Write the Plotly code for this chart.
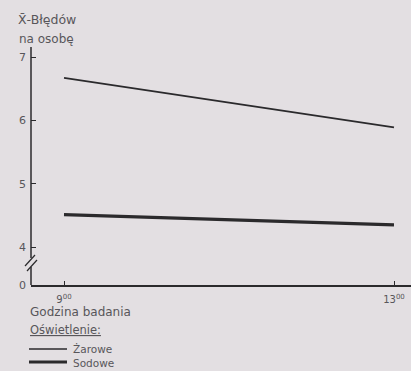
import plotly.graph_objects as go

# Data
hours = [9, 13]
hour_labels = ["9<sup>00</sup>", "13<sup>00</sup>"]
zarowe = [6.67, 5.89]
sodowe = [4.51, 4.35]
ytick_vals = [3.40, 4, 5, 6, 7]
ytick_text = ["0", "4", "5", "6", "7"]

W, H = 411, 371
L, R, T, B = 31, 0, 47, 86
PW, PH = W - L - R, H - T - B

def px(x):
    return (x - L) / PW

def py(y):
    return (H - B - y) / PH

ink = "#2b2a2c"
txt = "#58565a"
bg = "#e3dfe2"

fig = go.Figure()
fig.add_trace(go.Scatter(x=hours, y=zarowe, mode="lines", name="Żarowe",
                         line=dict(color=ink, width=1.8), showlegend=False))
fig.add_trace(go.Scatter(x=hours, y=sodowe, mode="lines", name="Sodowe",
                         line=dict(color=ink, width=3.2), showlegend=False))

fam = "DejaVu Sans"

fig.update_layout(
    width=W, height=H,
    margin=dict(l=L, r=R, t=T, b=B),
    paper_bgcolor=bg, plot_bgcolor=bg,
    font=dict(family=fam, size=11, color=txt),
    xaxis=dict(range=[8.6, 13.206], tickvals=hours, ticktext=hour_labels,
               showgrid=False, zeroline=False, showline=True, linecolor=ink,
               linewidth=1.5, ticks="inside", ticklen=4, tickcolor=ink,
               ticklabelstandoff=4,
               tickfont=dict(family=fam, size=10, color=txt)),
    yaxis=dict(range=[3.40, 7.158], tickvals=ytick_vals, ticktext=ytick_text,
               showgrid=False, zeroline=False, showline=False,
               ticks="inside", ticklen=5, tickcolor=ink,
               ticklabelstandoff=4,
               tickfont=dict(family=fam, size=11, color=txt)),
    showlegend=False,
)

shapes = []
line_style = dict(color=ink, width=1.5)
# y-axis with break
shapes.append(dict(type="line", xref="paper", yref="paper", x0=px(31), x1=px(31),
                   y0=py(47), y1=py(258), line=line_style))
shapes.append(dict(type="line", xref="paper", yref="paper", x0=px(31), x1=px(31),
                   y0=py(267), y1=py(285), line=line_style))
shapes.append(dict(type="line", xref="paper", yref="paper", x0=px(25), x1=px(35),
                   y0=py(266), y1=py(255), line=dict(color=ink, width=1.2)))
shapes.append(dict(type="line", xref="paper", yref="paper", x0=px(27), x1=px(37),
                   y0=py(271), y1=py(260), line=dict(color=ink, width=1.2)))
# legend swatches
shapes.append(dict(type="line", xref="paper", yref="paper", x0=px(29), x1=px(67),
                   y0=py(349), y1=py(349), line=dict(color=ink, width=1.5)))
shapes.append(dict(type="line", xref="paper", yref="paper", x0=px(29), x1=px(67),
                   y0=py(362), y1=py(362), line=dict(color=ink, width=3)))
fig.update_layout(shapes=shapes)

def note(text, x, y, size=12):
    fig.add_annotation(text=text, xref="paper", yref="paper", x=px(x), y=py(y),
                       xanchor="left", yanchor="middle", showarrow=False,
                       font=dict(family=fam, size=size, color=txt))

note("X̄-Błędów", 16, 20, 12.5)
note("na osobę", 17, 39, 12)
note("Godzina badania", 28, 312, 12)
note("<u>Oświetlenie:</u>", 28, 330, 11.5)
note("Żarowe", 71, 349, 10.5)
note("Sodowe", 71, 363, 10.5)

fig.write_html("out.html",
               config={"displayModeBar": False},
               post_script="document.body.style.margin='0';"
                           "document.body.style.overflow='hidden';"
                           "document.body.style.background='" + bg + "';")
